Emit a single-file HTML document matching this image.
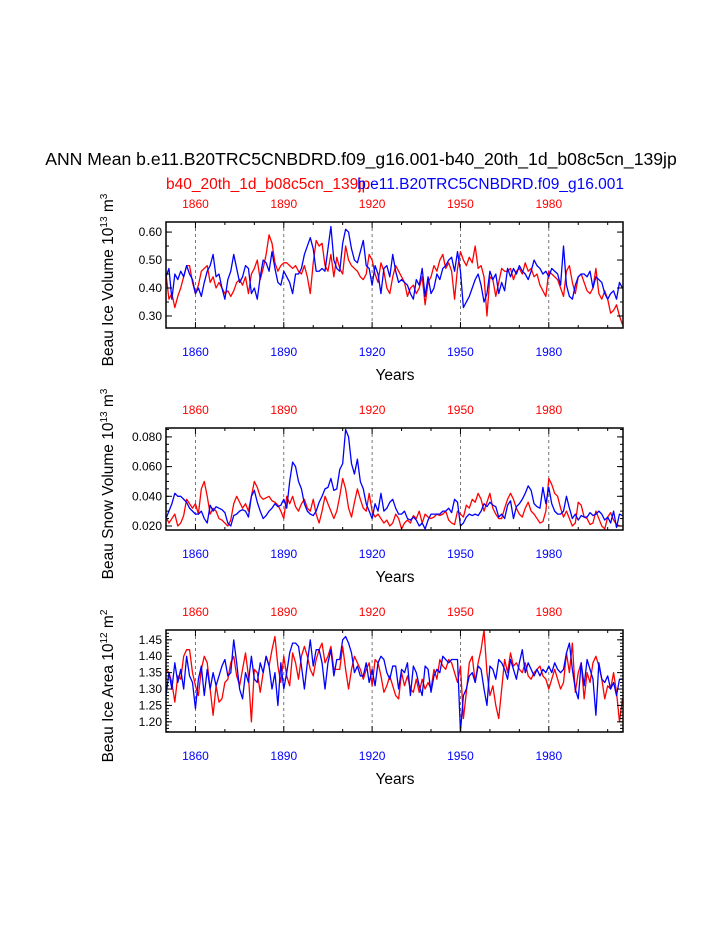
<!DOCTYPE html>
<html><head><meta charset="utf-8"><style>
body{margin:0;background:#fff}
svg{display:block;font-family:"Liberation Sans",Arial,sans-serif}
</style></head><body>
<svg id="chart" width="723" height="935" viewBox="0 0 723 935">
<rect width="723" height="935" fill="#fff"/>
<text x="361" y="165" font-size="17.6" text-anchor="middle">ANN Mean b.e11.B20TRC5CNBDRD.f09_g16.001-b40_20th_1d_b08c5cn_139jp</text>
<text x="166" y="189" font-size="15.5" fill="#f00">b40_20th_1d_b08c5cn_139jp</text>
<text x="624" y="189" font-size="15.5" fill="#00f" text-anchor="end">b.e11.B20TRC5CNBDRD.f09_g16.001</text>
</svg>
<script>
const years = Array.from({length:156},(_,i)=>1850+i);
const xTicks = [1860,1890,1920,1950,1980];
const volRed = [.45,.36,.38,.33,.37,.40,.44,.48,.48,.42,.38,.41,.46,.47,.48,.42,.44,.40,.42,.40,.38,.39,.37,.39,.42,.43,.41,.44,.38,.45,.47,.50,.43,.47,.52,.59,.56,.49,.46,.48,.49,.49,.48,.47,.48,.46,.45,.48,.44,.38,.49,.57,.55,.56,.48,.46,.52,.44,.51,.47,.45,.55,.50,.48,.47,.46,.44,.43,.45,.52,.50,.45,.42,.49,.46,.40,.38,.44,.48,.46,.44,.42,.37,.40,.41,.38,.40,.44,.34,.42,.44,.48,.46,.50,.52,.47,.49,.46,.36,.47,.53,.50,.48,.51,.49,.55,.47,.48,.44,.30,.44,.43,.37,.42,.47,.46,.46,.47,.43,.46,.47,.45,.49,.46,.47,.44,.45,.41,.39,.37,.46,.45,.44,.43,.40,.37,.46,.48,.42,.38,.44,.45,.42,.39,.38,.40,.47,.38,.36,.39,.36,.31,.32,.34,.30,.27];
const volBlue = [.44,.47,.36,.45,.43,.46,.44,.48,.45,.43,.38,.40,.37,.42,.46,.48,.52,.44,.45,.40,.36,.43,.46,.52,.47,.42,.44,.48,.47,.38,.40,.36,.44,.50,.49,.46,.53,.47,.42,.41,.46,.44,.42,.38,.45,.45,.47,.52,.55,.58,.54,.46,.46,.47,.46,.54,.62,.50,.47,.46,.56,.61,.60,.54,.50,.49,.53,.57,.48,.47,.41,.48,.45,.38,.47,.48,.44,.52,.46,.42,.43,.42,.41,.38,.36,.43,.41,.47,.37,.44,.38,.40,.45,.43,.47,.48,.50,.51,.46,.53,.46,.33,.35,.37,.40,.43,.45,.41,.35,.38,.46,.43,.45,.38,.42,.39,.47,.44,.47,.45,.48,.46,.45,.43,.46,.50,.48,.47,.45,.46,.44,.47,.46,.45,.41,.55,.41,.37,.36,.41,.44,.45,.45,.44,.46,.40,.44,.43,.42,.38,.36,.38,.39,.36,.42,.40];
const snowRed = [.026,.022,.025,.028,.020,.022,.027,.038,.035,.032,.035,.028,.045,.050,.040,.028,.032,.030,.025,.024,.022,.020,.024,.035,.040,.036,.032,.035,.030,.040,.050,.046,.040,.038,.039,.040,.037,.036,.034,.030,.025,.040,.035,.040,.033,.030,.035,.038,.032,.030,.038,.028,.022,.030,.040,.035,.030,.025,.030,.040,.052,.045,.032,.026,.036,.045,.038,.032,.030,.042,.030,.026,.028,.025,.022,.024,.020,.022,.028,.025,.018,.022,.024,.022,.027,.025,.030,.022,.028,.026,.025,.026,.028,.027,.028,.030,.024,.022,.021,.030,.028,.026,.034,.032,.038,.036,.042,.038,.030,.036,.042,.032,.028,.025,.025,.032,.038,.042,.038,.032,.028,.026,.032,.036,.030,.028,.025,.022,.023,.030,.052,.048,.042,.040,.032,.026,.030,.025,.020,.022,.036,.034,.026,.025,.021,.022,.030,.025,.020,.018,.026,.029,.024,.021,.020,.020];
const snowBlue = [.025,.030,.035,.042,.040,.040,.038,.036,.032,.030,.028,.028,.030,.025,.022,.034,.030,.033,.032,.031,.029,.022,.020,.027,.028,.030,.031,.030,.026,.040,.044,.036,.030,.025,.027,.030,.032,.035,.033,.034,.038,.032,.050,.063,.060,.050,.045,.035,.030,.028,.027,.030,.036,.040,.045,.046,.052,.044,.045,.058,.062,.085,.080,.062,.055,.065,.050,.045,.035,.030,.025,.035,.030,.042,.030,.032,.036,.038,.032,.028,.028,.030,.025,.024,.026,.024,.020,.022,.018,.024,.028,.028,.028,.028,.030,.030,.032,.029,.038,.036,.020,.022,.026,.028,.027,.028,.027,.030,.035,.033,.036,.034,.033,.026,.028,.025,.034,.037,.025,.033,.035,.038,.042,.047,.044,.035,.033,.032,.046,.035,.046,.035,.030,.028,.028,.030,.040,.032,.025,.028,.024,.027,.026,.026,.029,.027,.028,.030,.028,.024,.026,.022,.030,.019,.028,.027];
const areaRed = [1.36,1.35,1.32,1.26,1.34,1.33,1.40,1.42,1.42,1.35,1.31,1.28,1.36,1.40,1.38,1.30,1.22,1.31,1.26,1.27,1.32,1.33,1.38,1.40,1.34,1.31,1.36,1.41,1.34,1.20,1.36,1.35,1.29,1.35,1.40,1.37,1.42,1.46,1.37,1.32,1.40,1.34,1.31,1.41,1.38,1.33,1.40,1.43,1.40,1.36,1.34,1.39,1.42,1.44,1.38,1.40,1.43,1.36,1.36,1.36,1.43,1.36,1.30,1.36,1.40,1.38,1.36,1.33,1.36,1.38,1.31,1.39,1.38,1.34,1.29,1.31,1.34,1.31,1.28,1.27,1.35,1.31,1.34,1.30,1.29,1.33,1.29,1.33,1.30,1.32,1.30,1.36,1.33,1.39,1.37,1.36,1.39,1.38,1.35,1.32,1.37,1.21,1.29,1.38,1.40,1.32,1.38,1.42,1.48,1.35,1.28,1.31,1.25,1.21,1.30,1.39,1.35,1.41,1.37,1.38,1.36,1.35,1.38,1.34,1.33,1.35,1.36,1.37,1.34,1.33,1.30,1.33,1.36,1.33,1.30,1.32,1.41,1.35,1.44,1.29,1.35,1.38,1.27,1.35,1.32,1.38,1.40,1.37,1.33,1.27,1.31,1.30,1.35,1.29,1.20,1.27];
const areaBlue = [1.28,1.35,1.30,1.38,1.32,1.36,1.30,1.40,1.34,1.32,1.24,1.33,1.37,1.28,1.36,1.30,1.35,1.31,1.34,1.37,1.39,1.34,1.35,1.45,1.38,1.30,1.27,1.35,1.32,1.40,1.33,1.32,1.38,1.35,1.40,1.37,1.30,1.35,1.25,1.38,1.30,1.35,1.41,1.44,1.44,1.43,1.37,1.30,1.38,1.45,1.37,1.42,1.42,1.38,1.30,1.38,1.42,1.34,1.39,1.39,1.45,1.46,1.44,1.41,1.35,1.37,1.34,1.34,1.38,1.32,1.36,1.31,1.38,1.40,1.39,1.35,1.33,1.37,1.37,1.30,1.36,1.35,1.38,1.28,1.37,1.35,1.31,1.28,1.37,1.36,1.29,1.34,1.36,1.35,1.40,1.39,1.38,1.39,1.39,1.39,1.17,1.28,1.30,1.34,1.35,1.32,1.37,1.36,1.30,1.25,1.37,1.36,1.33,1.39,1.38,1.36,1.33,1.39,1.36,1.33,1.38,1.42,1.35,1.38,1.36,1.34,1.36,1.34,1.36,1.35,1.37,1.35,1.38,1.36,1.35,1.36,1.41,1.44,1.36,1.30,1.27,1.38,1.31,1.39,1.36,1.33,1.22,1.38,1.33,1.32,1.34,1.30,1.32,1.28,1.33,1.33];
const volTicks = ["0.30","0.40","0.50","0.60"];
const snowTicks = ["0.020","0.040","0.060","0.080"];
const areaTicks = ["1.20","1.25","1.30","1.35","1.40","1.45"];

const NS="http://www.w3.org/2000/svg";
const svg=document.getElementById('chart');
function mk(tag,attrs,parent){const e=document.createElementNS(NS,tag);for(const k in attrs)e.setAttribute(k,attrs[k]);(parent||svg).appendChild(e);return e;}
const X0=166,X1=623,Y0=1850,Y1=2005.2;
const xs=y=>X0+(y-Y0)/(Y1-Y0)*(X1-X0);

const panels=[
 {key:'ice-volume',top:222,bot:328,vmin:0.257,vmax:0.636,ticks:volTicks,minor:0.05,red:volRed,blue:volBlue,label:['Beau Ice Volume 10','13',' m','3']},
 {key:'snow-volume',top:428,bot:530,vmin:0.0173,vmax:0.0860,ticks:snowTicks,minor:0.005,red:snowRed,blue:snowBlue,label:['Beau Snow Volume 10','13',' m','3']},
 {key:'ice-area',top:630,bot:732,vmin:1.169,vmax:1.480,ticks:areaTicks,minor:0.01,red:areaRed,blue:areaBlue,label:['Beau Ice Area 10','12',' m','2']}
];
panels.forEach(p=>{
 const g=mk('g',{});
 
 
 const ys=v=>p.bot-(v-p.vmin)/(p.vmax-p.vmin)*(p.bot-p.top);
 xTicks.forEach(t=>{const l=mk('line',{x1:xs(t),x2:xs(t),y1:p.top,y2:p.bot,stroke:'#555','stroke-width':0.8,'stroke-dasharray':'3,3'},g);
  
  });
 [['red','#f00'],['blue','#00f']].forEach(([nm,col])=>{
  const d=p[nm].map((v,i)=>(i?'L':'M')+xs(years[i]).toFixed(2)+','+ys(v).toFixed(2)).join('');
  const path=mk('path',{d:d,fill:'none',stroke:col,'stroke-width':1.3,'stroke-linejoin':'round'},g);
  
  
 });
 const frame=mk('rect',{x:X0,y:p.top,width:X1-X0,height:p.bot-p.top,fill:'none',stroke:'#000','stroke-width':1.5},g);
 
 
 for(let yr=1850;yr<=2000;yr+=10){
  const major=xTicks.includes(yr);const len=major?6:3;const x=xs(yr);
  mk('line',{x1:x,x2:x,y1:p.bot,y2:p.bot-len,stroke:'#000','stroke-width':1},g);
  mk('line',{x1:x,x2:x,y1:p.top,y2:p.top+len,stroke:'#000','stroke-width':1},g);
 }
 xTicks.forEach(t=>{
  const a=mk('text',{x:xs(t),y:p.bot+28,'font-size':12,fill:'#00f','text-anchor':'middle'},g);a.textContent=t;
  
  
  const b=mk('text',{x:xs(t),y:p.top-14,'font-size':12,fill:'#f00','text-anchor':'middle'},g);b.textContent=t;
  
  
 });
 const xt=mk('text',{x:395,y:p.bot+52,'font-size':15.5,'text-anchor':'middle'},g);xt.textContent='Years';
 
 
 const start=Math.ceil(p.vmin/p.minor-1e-6);
 for(let k=start;k*p.minor<=p.vmax+1e-9;k++){const v=k*p.minor;const y=ys(v);
  mk('line',{x1:X0,x2:X0+3,y1:y,y2:y,stroke:'#000','stroke-width':1},g);
  mk('line',{x1:X1,x2:X1-3,y1:y,y2:y,stroke:'#000','stroke-width':1},g);}
 p.ticks.forEach(t=>{const y=ys(parseFloat(t));
  mk('line',{x1:X0,x2:X0+6,y1:y,y2:y,stroke:'#000','stroke-width':1},g);
  mk('line',{x1:X1,x2:X1-6,y1:y,y2:y,stroke:'#000','stroke-width':1},g);
  const tx=mk('text',{x:X0-4,y:y+4,'font-size':12,'text-anchor':'end'},g);tx.textContent=t;
  
  });
 const cy=(p.top+p.bot)/2+5;
 const yl=mk('text',{x:0,y:0,'font-size':15.5,'text-anchor':'middle',transform:`translate(113,${cy}) rotate(-90)`},g);
 
 
 const s1=mk('tspan',{},yl);s1.textContent=p.label[0];
 const s2=mk('tspan',{dy:-6,'font-size':10},yl);s2.textContent=p.label[1];
 const s3=mk('tspan',{dy:6},yl);s3.textContent=p.label[2];
 const s4=mk('tspan',{dy:-6,'font-size':10},yl);s4.textContent=p.label[3];
});
</script>
</body></html>
